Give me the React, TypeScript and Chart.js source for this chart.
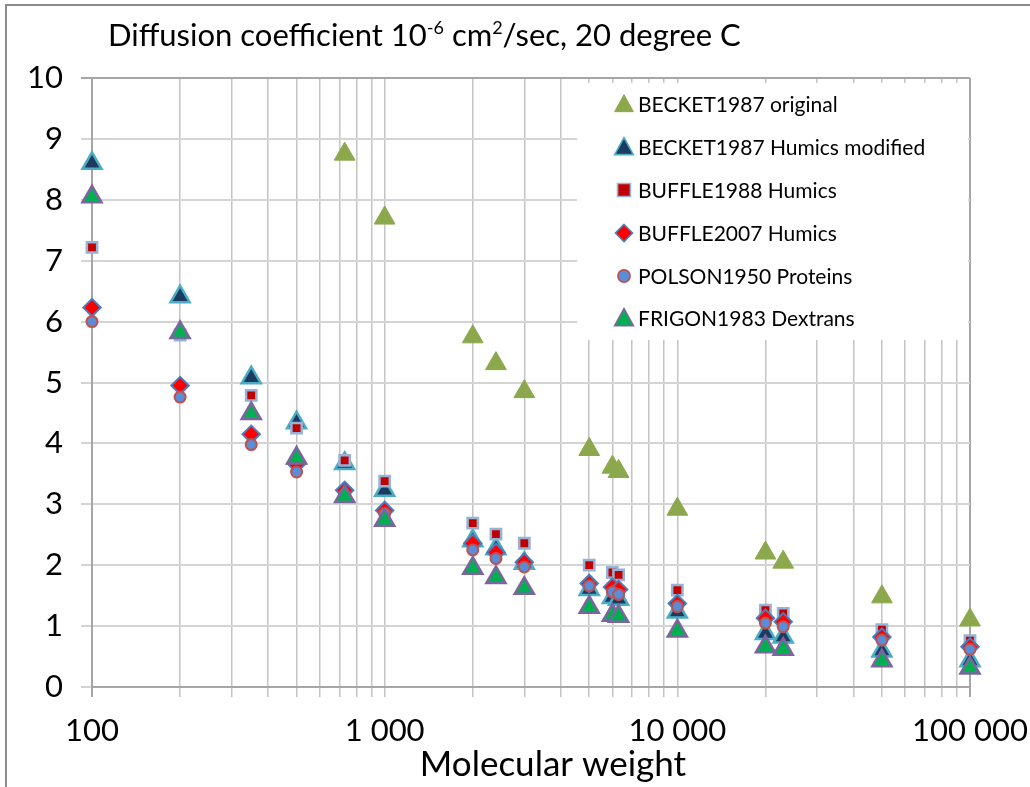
import React, { useEffect, useRef } from "react";
import { Chart, registerables } from "chart.js";

Chart.register(...registerables);

const FONT = "Lato, 'Open Sans', sans-serif";

// ---- Data ----
const xBecketOriginal = [730, 1000, 2000, 2400, 3000, 5000, 6000, 6300, 10000, 20000, 23000, 50000, 100000];
const xShared = [100, 200, 350, 500, 730, 1000, 2000, 2400, 3000, 5000, 6000, 6300, 10000, 20000, 23000, 50000, 100000];

const becketOriginal = [8.75, 7.7, 5.75, 5.31, 4.85, 3.9, 3.61, 3.54, 2.92, 2.2, 2.05, 1.48, 1.1];
const becketModified = [8.6, 6.41, 5.08, 4.34, 3.67, 3.23, 2.4, 2.27, 2.03, 1.6, 1.47, 1.44, 1.23, 0.88, 0.82, 0.59, 0.43];
const buffle1988 = [7.22, 5.78, 4.79, 4.25, 3.72, 3.38, 2.69, 2.51, 2.36, 2.0, 1.88, 1.84, 1.59, 1.26, 1.21, 0.94, 0.76];
const buffle2007 = [6.23, 4.95, 4.15, 3.66, 3.23, 2.9, 2.36, 2.21, 2.05, 1.7, 1.64, 1.6, 1.37, 1.13, 1.07, 0.82, 0.66];
const polson1950 = [6.0, 4.76, 3.98, 3.53, 3.16, 2.85, 2.25, 2.11, 1.97, 1.66, 1.56, 1.52, 1.32, 1.05, 0.99, 0.77, 0.62];
const frigon1983 = [8.05, 5.82, 4.49, 3.76, 3.13, 2.74, 1.95, 1.8, 1.62, 1.31, 1.18, 1.16, 0.92, 0.66, 0.62, 0.43, 0.31];

const seriesNames = [
  "BECKET1987 original",
  "BECKET1987 Humics modified",
  "BUFFLE1988 Humics",
  "BUFFLE2007 Humics",
  "POLSON1950 Proteins",
  "FRIGON1983 Dextrans",
];

const yTicks = [0, 1, 2, 3, 4, 5, 6, 7, 8, 9, 10];
const xDecadeLabels: Record<number, string> = { 100: "100", 1000: "1 000", 10000: "10 000", 100000: "100 000" };
const xAxisTitle = "Molecular weight";

const toPoints = (xs: number[], ys: number[]) => ys.map((y, i) => ({ x: xs[i], y }));

type Style = { shape: string; fill: string; stroke: string; bw: number };
const styles: Style[] = [
  { shape: "triangle", fill: "#8CA84D", stroke: "#8CA84D", bw: 1 },
  { shape: "triangle", fill: "#1D3B61", stroke: "#4BACC6", bw: 2.5 },
  { shape: "rect", fill: "#C00000", stroke: "#95B3D7", bw: 2.5 },
  { shape: "rectRot", fill: "#FF0000", stroke: "#4A7EBB", bw: 2 },
  { shape: "circle", fill: "#5B8DD6", stroke: "#C0504D", bw: 2 },
  { shape: "triangle", fill: "#00B050", stroke: "#7F63A1", bw: 2.5 },
];
const radii = [12, 11, 7.3, 8.7, 5.5, 11];

function drawMarker(ctx: CanvasRenderingContext2D, shape: string, x: number, y: number, s: number, st: Style) {
  ctx.save();
  ctx.beginPath();
  if (shape === "triangle") {
    ctx.moveTo(x, y - s * 0.55);
    ctx.lineTo(x + s * 0.55, y + s * 0.45);
    ctx.lineTo(x - s * 0.55, y + s * 0.45);
    ctx.closePath();
  } else if (shape === "rect") {
    ctx.rect(x - s * 0.38, y - s * 0.38, s * 0.76, s * 0.76);
  } else if (shape === "rectRot") {
    ctx.moveTo(x, y - s * 0.5);
    ctx.lineTo(x + s * 0.5, y);
    ctx.lineTo(x, y + s * 0.5);
    ctx.lineTo(x - s * 0.5, y);
    ctx.closePath();
  } else {
    ctx.arc(x, y, s * 0.36, 0, Math.PI * 2);
  }
  ctx.fillStyle = st.fill;
  ctx.fill();
  ctx.lineWidth = Math.min(st.bw, 1.6);
  ctx.strokeStyle = st.stroke;
  ctx.stroke();
  ctx.restore();
}

const decorPlugin = {
  id: "decor",
  beforeDraw(chart: any) {
    const ctx = chart.ctx as CanvasRenderingContext2D;
    ctx.save();
    ctx.strokeStyle = "#8C8C8C";
    ctx.lineWidth = 2;
    ctx.beginPath();
    ctx.moveTo(6, 787);
    ctx.lineTo(6, 5);
    ctx.lineTo(1030, 5);
    ctx.stroke();

    // title with superscripts
    const base = 46;
    let x = 108;
    const big = `31px ${FONT}`;
    const small = `18px ${FONT}`;
    const parts: [string, boolean][] = [
      ["Diffusion coefficient 10", false],
      ["-6", true],
      [" cm", false],
      ["2", true],
      ["/sec, 20 degree C", false],
    ];
    ctx.fillStyle = "#000";
    ctx.textBaseline = "alphabetic";
    ctx.textAlign = "left";
    for (const [t, sup] of parts) {
      ctx.font = sup ? small : big;
      ctx.fillText(t, x, sup ? base - 12 : base);
      x += ctx.measureText(t).width;
    }

    // x-axis title (offset to the right as in the reference)
    ctx.font = `35px ${FONT}`;
    ctx.textAlign = "center";
    ctx.fillText(xAxisTitle, 553, 776);
    ctx.restore();
  },
  beforeDatasetsDraw(chart: any) {
    const ctx = chart.ctx as CanvasRenderingContext2D;
    const ca = chart.chartArea;
    ctx.save();
    ctx.fillStyle = "#FFFFFF";
    ctx.fillRect(577, ca.top + 5, ca.right - 2 - 577, 340 - (ca.top + 5));
    const rows = [104, 147, 190, 233, 276, 318];
    ctx.font = `21px ${FONT}`;
    ctx.textBaseline = "middle";
    ctx.textAlign = "left";
    seriesNames.forEach((name, i) => {
      drawMarker(ctx, styles[i].shape, 624, rows[i], 17, styles[i]);
      ctx.fillStyle = "#000";
      ctx.fillText(name, 638, rows[i] + 1);
    });
    ctx.restore();
  },
};

function buildLogTicks() {
  const t: { value: number }[] = [];
  for (let d = 100; d <= 10000; d *= 10) {
    for (let m = 1; m <= 9; m++) t.push({ value: m * d });
  }
  t.push({ value: 100000 });
  return t;
}

const isEdge = (v: number) => v === 100 || v === 100000;

export default function App() {
  const ref = useRef<HTMLCanvasElement | null>(null);

  useEffect(() => {
    if (!ref.current) return;
    const seriesData = [
      toPoints(xBecketOriginal, becketOriginal),
      toPoints(xShared, becketModified),
      toPoints(xShared, buffle1988),
      toPoints(xShared, buffle2007),
      toPoints(xShared, polson1950),
      toPoints(xShared, frigon1983),
    ];
    const chart = new Chart(ref.current, {
      type: "scatter",
      data: {
        datasets: seriesData.map((d, i) => ({
          label: seriesNames[i],
          data: d,
          pointStyle: styles[i].shape as any,
          pointRadius: radii[i],
          pointHoverRadius: radii[i],
          backgroundColor: styles[i].fill,
          borderColor: styles[i].stroke,
          pointBorderWidth: styles[i].bw,
          borderWidth: styles[i].bw,
          showLine: false,
          clip: false as any,
          order: 6 - i,
        })),
      },
      options: {
        responsive: false,
        animation: false,
        events: [],
        layout: { padding: { left: 0, top: 78, right: 60, bottom: 0 } },
        plugins: {
          legend: { display: false },
          tooltip: { enabled: false },
          title: { display: false },
        },
        scales: {
          x: {
            type: "logarithmic",
            min: 100,
            max: 100000,
            afterBuildTicks: (scale: any) => {
              scale.ticks = buildLogTicks();
            },
            afterFit: (scale: any) => {
              scale.height = 100;
              scale.paddingLeft = 0;
              scale.paddingRight = 0;
            },
            ticks: {
              autoSkip: false,
              maxRotation: 0,
              minRotation: 0,
              padding: 15,
              color: "#000",
              font: { family: FONT, size: 31 },
              callback: (v: any) => xDecadeLabels[Number(v)] ?? "",
            },
            grid: {
              color: (c: any) => (c.tick && isEdge(c.tick.value) ? "#A6A6A6" : "#C4C4C4"),
              lineWidth: (c: any) => (c.tick && isEdge(c.tick.value) ? 2 : 1.5),
              tickLength: 10,
            },
            border: { display: true, color: "#A6A6A6", width: 2 },
            title: { display: false },
          },
          y: {
            min: 0,
            max: 10,
            afterBuildTicks: (scale: any) => {
              scale.ticks = yTicks.map((v) => ({ value: v }));
            },
            afterFit: (scale: any) => {
              scale.width = 92;
            },
            ticks: {
              padding: 18,
              color: "#000",
              font: { family: FONT, size: 31 },
            },
            grid: {
              color: (c: any) => (c.tick && c.tick.value === 10 ? "#A6A6A6" : "#D4D4D4"),
              lineWidth: 2,
              tickLength: 11,
            },
            border: { display: true, color: "#A6A6A6", width: 2 },
          },
        },
      },
      plugins: [decorPlugin],
    });
    return () => chart.destroy();
  }, []);

  return (
    <div style={{ position: "absolute", left: 0, top: 0, width: 1030, height: 787, background: "#fff" }}>
      <canvas ref={ref} width={1030} height={787} style={{ display: "block" }} />
    </div>
  );
}
